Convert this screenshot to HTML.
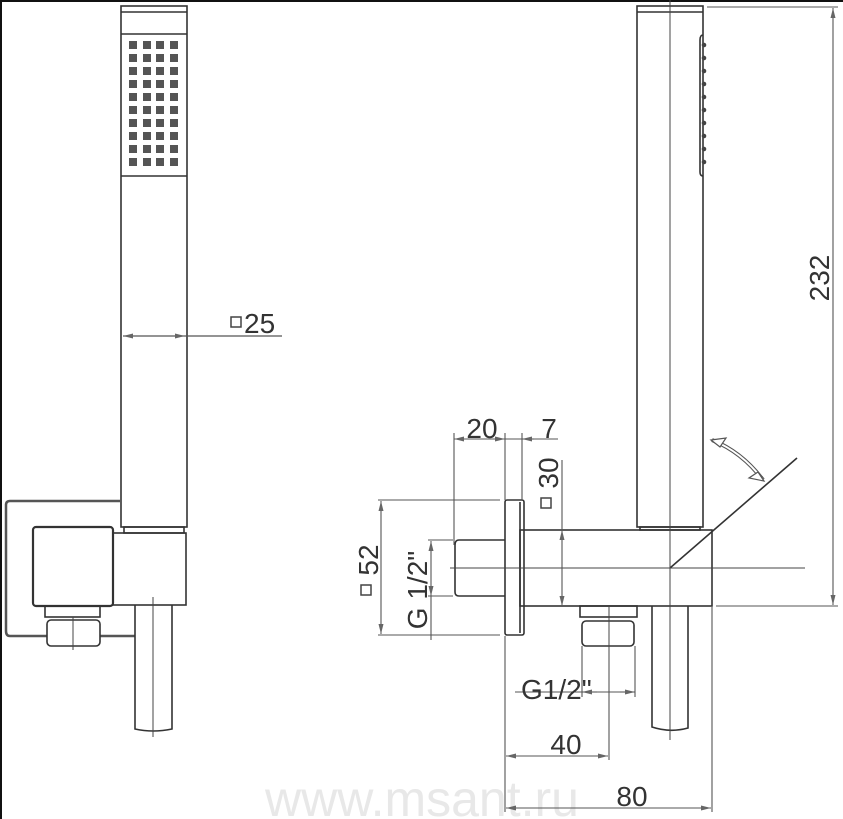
<!DOCTYPE html>
<html><head><meta charset="utf-8"><style>
html,body{margin:0;padding:0;background:#fff;}
svg{display:block;}
text{font-family:"Liberation Sans",Arial,sans-serif;fill:#333;}
</style></head><body>
<svg width="843" height="819" viewBox="0 0 843 819" xmlns="http://www.w3.org/2000/svg">
<defs>
<marker id="a" viewBox="0 0 10 6" refX="10" refY="3" markerWidth="10" markerHeight="6" orient="auto-start-reverse" markerUnits="userSpaceOnUse">
<path d="M0,0.5 L10,3 L0,5.5 Z" fill="#666"/>
</marker>
</defs>
<rect x="0" y="0" width="843" height="2" fill="#111"/>
<rect x="0" y="0" width="2" height="819" fill="#111"/>
<text x="422" y="816" font-size="50" text-anchor="middle" style="fill:#e8e8e8">www.msant.ru</text>
<g fill="none" stroke="#333" stroke-width="1.6">
<rect x="121" y="6" width="66" height="521"/>
<line x1="121" y1="12" x2="187" y2="12"/>
<line x1="121" y1="34" x2="187" y2="34"/>
<line x1="121" y1="176" x2="187" y2="176"/>
<rect x="124" y="527" width="60" height="6"/>
<path d="M120,501 H10 Q6,501 6,505 V631 Q6,636 10,636 H47 M100,636 H135" stroke-width="2.5" stroke="#555"/>
<rect x="33" y="527" width="80" height="79" rx="3" stroke-width="2.2"/>
<rect x="113" y="533" width="73" height="72"/>
<rect x="45" y="606" width="55" height="11"/>
<rect x="47" y="620" width="53" height="26" rx="4"/>
<path d="M135,605 V729 Q153,733 172,729 V605"/>
</g>
<g stroke="#444" stroke-width="1" fill="none">
<line x1="153" y1="597" x2="153" y2="737"/>
<line x1="73" y1="617" x2="73" y2="650"/>
</g>
<g fill="#555">
<rect x="129" y="41" width="8" height="8"/><rect x="143" y="41" width="8" height="8"/><rect x="156" y="41" width="8" height="8"/><rect x="170" y="41" width="8" height="8"/>
<rect x="129" y="54" width="8" height="8"/><rect x="143" y="54" width="8" height="8"/><rect x="156" y="54" width="8" height="8"/><rect x="170" y="54" width="8" height="8"/>
<rect x="129" y="67" width="8" height="8"/><rect x="143" y="67" width="8" height="8"/><rect x="156" y="67" width="8" height="8"/><rect x="170" y="67" width="8" height="8"/>
<rect x="129" y="80" width="8" height="8"/><rect x="143" y="80" width="8" height="8"/><rect x="156" y="80" width="8" height="8"/><rect x="170" y="80" width="8" height="8"/>
<rect x="129" y="93" width="8" height="8"/><rect x="143" y="93" width="8" height="8"/><rect x="156" y="93" width="8" height="8"/><rect x="170" y="93" width="8" height="8"/>
<rect x="129" y="106" width="8" height="8"/><rect x="143" y="106" width="8" height="8"/><rect x="156" y="106" width="8" height="8"/><rect x="170" y="106" width="8" height="8"/>
<rect x="129" y="119" width="8" height="8"/><rect x="143" y="119" width="8" height="8"/><rect x="156" y="119" width="8" height="8"/><rect x="170" y="119" width="8" height="8"/>
<rect x="129" y="132" width="8" height="8"/><rect x="143" y="132" width="8" height="8"/><rect x="156" y="132" width="8" height="8"/><rect x="170" y="132" width="8" height="8"/>
<rect x="129" y="145" width="8" height="8"/><rect x="143" y="145" width="8" height="8"/><rect x="156" y="145" width="8" height="8"/><rect x="170" y="145" width="8" height="8"/>
<rect x="129" y="158" width="8" height="8"/><rect x="143" y="158" width="8" height="8"/><rect x="156" y="158" width="8" height="8"/><rect x="170" y="158" width="8" height="8"/>
</g>
<g stroke="#555" stroke-width="1.2" fill="none">
<line x1="123" y1="336" x2="185" y2="336" marker-start="url(#a)" marker-end="url(#a)"/>
<line x1="185" y1="336" x2="282" y2="336"/>
</g>
<rect x="231" y="317" width="10" height="10" fill="none" stroke="#444" stroke-width="1.5"/>
<text x="244" y="333" font-size="28">25</text>

<g fill="none" stroke="#333" stroke-width="1.6">
<rect x="637" y="6" width="66" height="521"/>
<line x1="637" y1="12" x2="703" y2="12"/>
<rect x="640" y="527" width="60" height="3"/>
<path d="M703,35 Q700,35 700,40 V172 Q700,176 703,176"/>
<rect x="520" y="530" width="192" height="76"/>
<rect x="505" y="500" width="19" height="135" rx="2"/>
<line x1="520" y1="502" x2="520" y2="633"/>
<path d="M505,540 H459 Q455,540 455,545 V592 Q455,596 459,596 H505"/>
<rect x="580" y="606" width="57" height="11"/>
<rect x="582" y="621" width="52" height="25" rx="4"/>
<path d="M652,606 V727 Q670,733 688,728 V606"/>
<line x1="670" y1="568" x2="797" y2="458"/>
</g>
<g fill="#444">
<circle cx="704" cy="45" r="2.3"/><circle cx="704" cy="58" r="2.3"/><circle cx="704" cy="71" r="2.3"/><circle cx="704" cy="84" r="2.3"/><circle cx="704" cy="97" r="2.3"/><circle cx="704" cy="110" r="2.3"/><circle cx="704" cy="123" r="2.3"/><circle cx="704" cy="136" r="2.3"/><circle cx="704" cy="149" r="2.3"/><circle cx="704" cy="162" r="2.3"/>
</g>
<g stroke="#444" stroke-width="1" fill="none">
<line x1="670" y1="0" x2="670" y2="740"/>
<line x1="450" y1="568" x2="805" y2="568"/>
<line x1="609" y1="606" x2="609" y2="660"/>
</g>
<path d="M712,440 Q742,452 763,480" fill="none" stroke="#555" stroke-width="4"/>
<path d="M712,440 Q742,452 763,480" fill="none" stroke="#fff" stroke-width="2"/>
<path d="M711,440 L726,438 L720,447 Z M764,481 L749,478 L758,472 Z" fill="#fff" stroke="#555" stroke-width="1.2"/>

<g stroke="#555" stroke-width="1.1" fill="none">
<line x1="707" y1="7" x2="838" y2="7"/>
<line x1="716" y1="606" x2="838" y2="606"/>
<line x1="833" y1="8" x2="833" y2="605" marker-start="url(#a)" marker-end="url(#a)"/>
<line x1="454" y1="433" x2="454" y2="545"/>
<line x1="505" y1="433" x2="505" y2="500"/>
<line x1="522" y1="433" x2="522" y2="500"/>
<line x1="454" y1="439" x2="505" y2="439" marker-start="url(#a)" marker-end="url(#a)"/>
<line x1="505" y1="439" x2="558" y2="439"/>
<line x1="534" y1="439" x2="522" y2="439" marker-end="url(#a)"/>
<line x1="562" y1="460" x2="562" y2="530"/>
<line x1="562" y1="530" x2="562" y2="606" marker-start="url(#a)" marker-end="url(#a)"/>
<line x1="378" y1="500" x2="500" y2="500"/>
<line x1="378" y1="635" x2="500" y2="635"/>
<line x1="381" y1="501" x2="381" y2="634" marker-start="url(#a)" marker-end="url(#a)"/>
<line x1="428" y1="540" x2="453" y2="540"/>
<line x1="428" y1="596" x2="453" y2="596"/>
<line x1="431" y1="541" x2="431" y2="596" marker-start="url(#a)" marker-end="url(#a)"/>
<line x1="431" y1="596" x2="431" y2="640"/>
<line x1="582" y1="646" x2="582" y2="697"/>
<line x1="635" y1="646" x2="635" y2="697"/>
<line x1="515" y1="692" x2="582" y2="692"/>
<line x1="597" y1="692" x2="582" y2="692" marker-end="url(#a)"/>
<line x1="620" y1="692" x2="635" y2="692" marker-end="url(#a)"/>
<line x1="597" y1="692" x2="620" y2="692"/>
<line x1="505" y1="636" x2="505" y2="812"/>
<line x1="609" y1="656" x2="609" y2="760"/>
<line x1="712" y1="607" x2="712" y2="812"/>
<line x1="506" y1="756" x2="608" y2="756" marker-start="url(#a)" marker-end="url(#a)"/>
<line x1="506" y1="808" x2="711" y2="808" marker-start="url(#a)" marker-end="url(#a)"/>
</g>
<text x="482" y="438" font-size="28" text-anchor="middle">20</text>
<text x="549" y="438" font-size="28" text-anchor="middle">7</text>
<text x="521" y="699" font-size="28">G1/2"</text>
<text x="566" y="754" font-size="28" text-anchor="middle">40</text>
<text x="632" y="806" font-size="28" text-anchor="middle">80</text>
<text transform="translate(829,278) rotate(-90)" font-size="28" text-anchor="middle">232</text>
<g transform="translate(558,480) rotate(-90)">
<text x="7" y="0" font-size="28" text-anchor="middle">30</text>
<rect x="-28" y="-17" width="10" height="10" fill="none" stroke="#444" stroke-width="1.5"/>
</g>
<g transform="translate(378,567) rotate(-90)">
<text x="7" y="0" font-size="28" text-anchor="middle">52</text>
<rect x="-28" y="-17" width="10" height="10" fill="none" stroke="#444" stroke-width="1.5"/>
</g>
<text transform="translate(427,590) rotate(-90)" font-size="28" text-anchor="middle">G 1/2"</text>
</svg>
</body></html>
